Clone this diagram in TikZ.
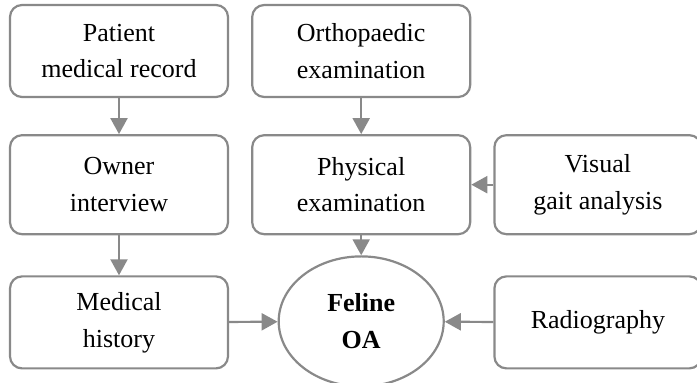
\documentclass[tikz,border=0pt]{standalone}
\usepackage{fontspec}
\setmainfont{Liberation Serif}
\usepackage{tikz}
\usetikzlibrary{
  arrows.meta,
  positioning,
  shapes.geometric
}
\definecolor{framegray}{RGB}{137,137,137}
\tikzset{
  stepbox/.style={draw=framegray, line width=1.1pt, rounded corners=6pt, fill=white,
    minimum width=109pt, minimum height=46pt, inner sep=0pt,
    align=center, font=\fontsize{13}{18.4}\selectfont},
  sidebox/.style={stepbox, minimum width=103.5pt},
  arr/.style={-{Triangle[length=8pt, width=8.5pt]}, line width=1.1pt, framegray},
}

\begin{document}
\begin{tikzpicture}[
  oabox/.style={draw=framegray, line width=1.1pt, ellipse, fill=white,
    minimum width=82.5pt, minimum height=65pt, inner sep=0pt,
    align=center, font=\fontsize{13}{18.4}\selectfont\bfseries},
  node distance=20pt
]
  \useasboundingbox (0,0) rectangle (348.5pt,-191.5pt);

  \node[stepbox] (record) at (59.5pt,-25.5pt) {Patient\\medical record};
  \node[stepbox, right=11pt of record] (ortho) {Orthopaedic\\examination};
  \node[stepbox, minimum height=49.5pt, below=18pt of record] (owner) {Owner\\interview};
  \node[stepbox, minimum height=49.5pt, below=18pt of ortho] (phys) {Physical\\examination};
  \node[sidebox, minimum height=49.5pt, right=11pt of phys] (gait) {Visual\\gait analysis};
  \node[stepbox, below=of owner] (history) {Medical\\history};
  \node[oabox, below=10pt of phys] (oa) {Feline\\OA};
  \node[sidebox, below=of gait] (radio) {Radiography};

  % Arrows into the diagnosis
  \draw[arr] (record) -- (owner);
  \draw[arr] (owner) -- (history);
  \draw[arr] (ortho) -- (phys);
  \draw[arr] (gait) -- (phys);
  \draw[arr] (phys) -- (oa);
  \draw[arr] (history) -- (oa);
  \draw[arr] (radio) -- (oa);
\end{tikzpicture}
\end{document}
